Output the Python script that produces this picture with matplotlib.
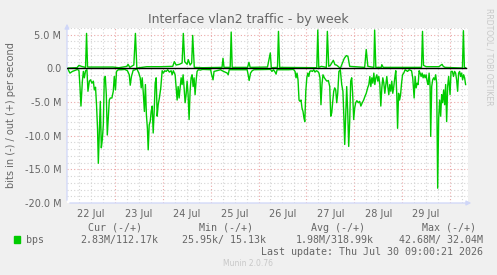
import matplotlib
matplotlib.use("Agg")
import matplotlib.pyplot as plt
import numpy as np

# ── Data (hours since 22 Jul 00:00, Mbit/s) ─────────────────────────────────
in_hours = [0.5, 1.5, 2.7, 4.0, 5.3, 6.0, 6.5, 7.0, 7.7, 8.2, 8.7, 9.3, 10.0, 10.5, 11.2,
            11.8, 12.5, 13.2, 13.7, 14.3, 14.8, 15.3, 15.7, 16.2, 16.7, 17.2, 17.7, 18.2,
            18.7, 19.2, 19.7, 20.2, 20.7, 21.2, 21.7, 22.5, 23.2, 23.7, 24.3, 24.8, 25.7,
            27.3, 29.0, 30.3, 31.2, 31.7, 32.3, 33.2, 33.8, 35.0, 36.0, 36.7, 37.2, 37.7,
            38.3, 38.8, 39.3, 39.8, 40.3, 40.7, 41.2, 41.7, 42.2, 42.7, 43.2, 43.7, 44.2,
            44.7, 45.2, 45.7, 46.3, 47.0, 47.7, 48.3, 49.0, 49.7, 50.5, 51.3, 52.2, 52.7,
            53.3, 54.2, 54.7, 55.2, 55.7, 56.2, 56.7, 57.2, 57.7, 58.2, 58.7, 59.2, 59.7,
            60.2, 60.7, 61.2, 61.7, 62.2, 62.7, 63.2, 63.7, 64.2, 64.7, 65.2, 65.8, 66.8,
            68.0, 72.0, 72.5, 73.2, 73.7, 77.0, 77.8, 80.3, 80.8, 81.3, 90.3, 90.8, 91.3,
            92.0, 92.8, 93.7, 102.0, 102.7, 103.5, 104.3, 104.8, 105.3, 111.0, 113.5, 114.3,
            114.8, 115.3, 115.8, 116.3, 116.8, 117.3, 117.8, 118.3, 118.8, 119.2, 119.7,
            120.2, 120.7, 121.2, 121.7, 122.3, 123.0, 123.7, 124.3, 125.0, 125.7, 126.3,
            126.8, 127.3, 127.8, 128.3, 129.0, 129.7, 130.3, 131.0, 131.7, 132.2, 132.7,
            133.2, 133.7, 134.2, 134.7, 135.2, 135.7, 136.3, 137.0, 137.7, 138.3, 138.8,
            139.2, 139.7, 140.2, 140.7, 141.2, 141.7, 142.2, 142.7, 143.2, 143.7, 144.2,
            144.7, 145.3, 146.0, 146.7, 147.3, 148.0, 148.7, 149.3, 150.0, 150.7, 151.3,
            151.8, 152.3, 152.8, 153.3, 153.8, 154.3, 154.8, 155.3, 155.8, 156.3, 156.8,
            157.3, 157.8, 158.3, 158.8, 159.3, 159.8, 160.3, 160.8, 161.3, 161.8, 162.3,
            162.8, 163.3, 163.8, 164.3, 164.8, 165.3, 165.7, 166.2, 166.7, 167.2, 167.7,
            168.2, 168.8, 169.5, 170.7, 171.5, 172.7, 173.3, 174.0, 174.5, 175.0, 175.5,
            176.0, 176.5, 177.0, 177.5, 178.0, 178.5, 179.0, 179.5, 180.0, 180.5, 181.0,
            181.5, 182.0, 182.3, 182.8, 183.3, 183.8, 184.3, 184.8, 185.3, 185.8, 186.3,
            186.8, 187.3, 187.8, 188.3, 188.8, 189.3, 189.8, 190.3, 190.8, 191.3, 192.0,
            192.5, 193.2, 193.7, 194.3, 194.8, 195.3, 195.8, 196.3, 196.8, 197.3, 197.8,
            198.3, 198.8, 199.3, 199.8]
in_mbps = [0.15, 0.7, 0.45, 0.3, 0.15, 0.35, 2.7, 5.6, 1.9, 0.45, 1.4, 0.35, 0.2, 3.4, 1.9,
           1.7, 2.2, 1.9, 3.2, 2.8, 5.4, 8.9, 14.1, 9.4, 4.9, 11.8, 10.6, 8.4,
           1.4, 1.2, 3.9, 9.9, 7.4, 4.7, 4.4, 4.4, 3.4, 1.2, 3.2, 0.45, 0.2,
           0.2, 0.15, 0.35, 0.95, 2.5, 1.2, 0.25, 0.25, 0.05, 0.7, 1.4, 2.9, 1.4,
           3.9, 6.4, 2.4, 6.9, 8.9, 12.1, 8.4, 7.9, 6.4, 5.6, 9.6, 6.4, 2.2,
           1.4, 7.1, 5.4, 4.4, 2.9, 0.35, 0.7, 0.35, 0.45, 0.2, 0.55, 0.35, 0.95,
           0.35, 0.95, 2.9, 4.7, 2.7, 4.4, 2.9, 1.4, 2.4, 0.95, 2.9, 5.1, 3.9,
           1.9, 3.9, 7.6, 3.4, 1.4, 0.95, 2.7, 1.4, 3.9, 1.9, 0.45, 0.2, 0.25,
           0.15, 0.2, 0.95, 1.7, 0.45, 0.2, 0.35, 0.7, 0.95, 0.2, 0.2, 0.95, 1.8,
           0.7, 0.35, 0.2, 0.15, 0.45, 0.2, 0.55, 0.85, 0.2, 0.2, 0.15, 0.45,
           1.4, 0.7, 1.7, 4.7, 4.9, 4.7, 5.9, 6.4, 7.4, 7.9, 3.4,
           1.4, 0.7, 1.2, 0.45, 0.35, 0.45, 0.2, 0.55, 0.35, 0.45, 0.7,
           1.4, 5.4, 2.4, 0.95, 1.4, 1.7, 1.9, 1.8, 2.7, 7.1, 6.6,
           4.9, 3.4, 2.9, 3.2, 5.1, 3.7, 0.45, 0.2, 2.4, 3.4, 7.4,
           11.3, 6.9, 2.7, 6.4, 11.6, 7.9, 1.9, 1.4, 3.9, 7.6, 5.9,
           5.1, 4.8, 5.1, 4.9, 5.6, 5.1, 4.7, 4.2, 3.7, 2.9, 2.4,
           1.2, 2.7, 1.4, 2.2, 0.7, 2.4, 1.4, 0.95, 1.9, 1.2, 2.4,
           5.6, 2.9, 1.4, 2.2, 3.7, 2.4, 1.2, 2.7, 3.9, 2.4, 3.4,
           1.9, 3.7, 2.7, 1.4, 0.35, 3.9, 8.9, 3.7, 4.7, 3.9, 2.2,
           0.95, 0.7, 0.2, 0.45, 0.2, 0.35, 1.4, 4.4, 1.2, 2.9, 2.2,
           2.4, 0.35, 0.7, 1.2, 0.7, 1.4, 0.95, 1.4, 0.95, 1.9, 2.4,
           0.7, 2.7, 10.1, 2.7, 1.7, 1.4, 1.7, 0.95, 2.2, 17.8, 7.4,
           4.7, 7.1, 3.9, 5.1, 3.2, 5.4, 2.4, 7.9, 2.7, 1.2, 3.9,
           0.45, 0.45, 1.2, 0.45, 0.7, 1.7, 3.4, 0.7, 0.45, 1.2, 0.7,
           1.7, 0.95, 1.4, 2.4]

out_hours = [0.5, 5.0, 6.0, 7.2, 9.3, 9.8, 10.3, 14.0, 23.0, 26.0, 30.0, 30.6, 31.5, 33.5,
             34.3, 35.0, 40.0, 47.0, 53.0, 53.8, 54.7, 56.3, 57.7, 58.3, 59.0, 60.2, 60.8,
             61.7, 62.5, 63.0, 63.8, 68.0, 77.7, 78.2, 78.7, 81.8, 82.3, 82.8, 90.5, 91.2,
             91.8, 100.5, 101.9, 102.4, 105.5, 106.0, 106.6, 125.2, 125.7, 126.2, 127.5,
             130.0, 130.5, 131.2, 132.0, 133.5, 134.3, 135.0, 135.5, 137.0, 139.0, 140.0,
             140.8, 141.7, 149.2, 150.0, 150.8, 153.8, 154.2, 154.8, 157.5, 157.8, 158.5,
             177.7, 178.2, 178.7, 180.0, 186.5, 187.3, 188.0, 188.6, 189.5, 198.2, 198.7,
             199.2, 199.8]
out_mbps = [0.05, 0.1, 0.45, 0.3, 0.15, 5.2, 0.2, 0.2, 0.2, 0.1, 0.3, 0.6, 0.15, 0.5,
            5.2, 0.05, 0.25, 0.25, 0.3, 1.0, 0.5, 0.6, 0.8, 5.2, 1.0, 0.6, 1.3,
            0.5, 0.8, 4.9, 0.15, 0.1, 0.15, 1.5, 0.15, 0.15, 5.4, 0.15, 0.15, 0.9,
            0.15, 0.2, 2.3, 0.1, 0.15, 5.5, 0.15, 0.1, 5.7, 0.15, 0.3,
            0.15, 5.5, 0.3, 0.45, 1.2, 0.55, 0.5, 0.4, 0.0, 1.5, 1.9,
            1.8, 0.3, 0.15, 2.8, 0.3, 0.15, 5.7, 0.15, 0.15, 0.55, 0.15,
            0.15, 5.5, 0.45, 0.25, 0.25, 0.45, 0.6, 0.3, 0.15, 0.05, 5.6,
            0.05, 0.1]

day_labels = ["22 Jul", "23 Jul", "24 Jul", "25 Jul", "26 Jul", "27 Jul", "28 Jul", "29 Jul"]
ytick_vals = [5, 0, -5, -10, -15, -20]
ytick_labels = ["5.0 M", "0.0", "-5.0 M", "-10.0 M", "-15.0 M", "-20.0 M"]
legend_heads = ["Cur (-/+)", "Min (-/+)", "Avg (-/+)", "Max (-/+)"]
legend_vals = ["2.83M/112.17k", "25.95k/ 15.13k", "1.98M/318.99k", "42.68M/ 32.04M"]

# ── Style ───────────────────────────────────────────────────────────────────
W, H = 497, 275
BACK = "#F0F0F0"
FONT = "#666666"
AXIS = "#CFD6F8"
GREEN = "#00CC00"

def fx(px):
    return px / W

def fy(py):
    return 1 - py / H

fig = plt.figure(figsize=(W / 100, H / 100), dpi=100, facecolor=BACK)
ax = fig.add_axes([fx(67), fy(203), fx(468) - fx(67), fy(28) - fy(203)])
ax.set_facecolor("white")

t_in = 22 + np.array(in_hours) / 24
t_out = 22 + np.array(out_hours) / 24

ax.set_xlim(22, 22 + 201 / 24)
ax.set_ylim(-20, 6)

# grid: minor every 6 h / 1 M, major at midnight / 5 M
for d in np.arange(22.25, 30.4, 0.25):
    if abs(d - round(d)) < 1e-6:
        ax.axvline(d, color="#EBA9A9", lw=0.8, ls=(0, (1, 2)), zorder=1)
    else:
        ax.axvline(d, color="#D4D4D4", lw=0.8, ls=(0, (1, 2)), zorder=1)
for v in range(-19, 7):
    if v % 5 == 0:
        ax.axhline(v, color="#EBA9A9", lw=0.8, ls=(0, (1, 2)), zorder=1)
    else:
        ax.axhline(v, color="#D4D4D4", lw=0.8, ls=(0, (1, 2)), zorder=1)

ax.plot(t_in, -np.array(in_mbps), color=GREEN, lw=1.0, zorder=3)
ax.plot(t_out, out_mbps, color=GREEN, lw=1.0, zorder=3)
ax.plot([22, t_in[-1]], [0, 0], color="black", lw=1.0, zorder=4)

for s in ax.spines.values():
    s.set_visible(False)
ax.tick_params(length=0, labelsize=7, colors=FONT, pad=4)
ax.set_yticks(ytick_vals)
ax.set_yticklabels(ytick_labels)
ax.set_xticks([22.5 + i for i in range(len(day_labels))])
ax.set_xticklabels(day_labels)

# axis lines with arrows
ax.annotate("", xy=(1.015, 0), xytext=(0, 0), xycoords="axes fraction",
            arrowprops=dict(arrowstyle="-|>", color=AXIS, lw=0.9, mutation_scale=7),
            annotation_clip=False)
ax.annotate("", xy=(0, 1.04), xytext=(0, 0), xycoords="axes fraction",
            arrowprops=dict(arrowstyle="-|>", color=AXIS, lw=0.9, mutation_scale=7),
            annotation_clip=False)

fig.text(fx(248), fy(19), "Interface vlan2 traffic - by week", ha="center", va="center",
         fontsize=9, color=FONT)
fig.text(fx(11), fy(115), "bits in (-) / out (+) per second", rotation=90,
         ha="center", va="center", fontsize=7, color=FONT)
fig.text(fx(489), fy(8), "RRDTOOL / TOBI OETIKER", rotation=270, ha="center", va="top",
         fontsize=5.5, color="#C8C8C8")

# legend block
fig.patches.append(plt.Rectangle((fx(14), fy(243)), fx(6), fy(236) - fy(243),
                                 transform=fig.transFigure, color=GREEN))
mono = dict(family="DejaVu Sans Mono", fontsize=7.2, color=FONT, va="center")
fig.text(fx(26), fy(240), "bps", ha="left", **mono)
head_right = [142, 253, 365, 476]
val_right = [158, 266, 374, 483]
for head, hx in zip(legend_heads, head_right):
    fig.text(fx(hx), fy(228), head, ha="right", **mono)
for val, vx in zip(legend_vals, val_right):
    fig.text(fx(vx), fy(240), val, ha="right", **mono)
fig.text(fx(483), fy(252), "Last update: Thu Jul 30 09:00:21 2026", ha="right", **mono)
fig.text(fx(248), fy(264), "Munin 2.0.76", ha="center", va="center", fontsize=5.5,
         color="#C8C8C8")

plt.savefig("out.png", dpi=100, facecolor=BACK)
